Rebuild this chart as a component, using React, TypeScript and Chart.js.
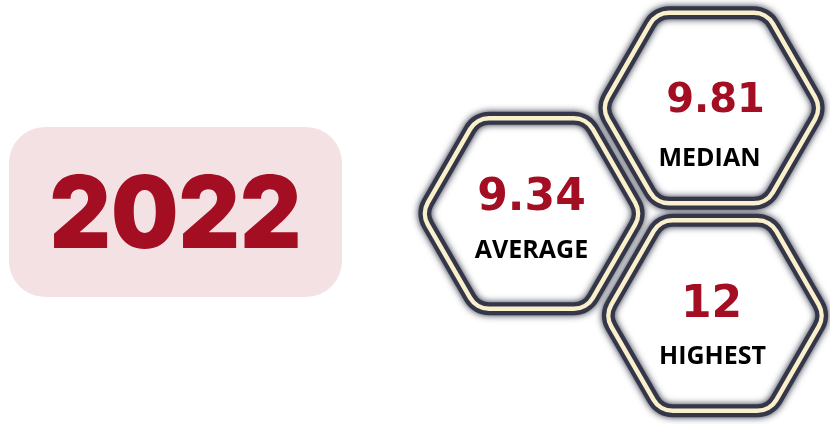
import React, { useEffect, useRef } from "react";
import { Chart, registerables } from "chart.js";

Chart.register(...registerables);

// ---- data ----
const yearLabel = "2022";
const statLabels = ["AVERAGE", "MEDIAN", "HIGHEST"];
const statValues = [9.34, 9.81, 12];
const valueText = ["9.34", "9.81", "12"];

// ---- layout (chart units == pixels) ----
const hexCenterX = [531.5, 711.5, 715];
const hexCenterY = [213.5, 108, 315.5];
const valueOffsetX = [0, 4, -3.5];
const valueBaseline = [-3.5, 4, 1.5];
const valueFont = [44, 40, 44];
const labelOffsetX = [0, -2, -2.5];
const labelBaseline = [44.5, 58, 48.5];

const RED = "#a30e22";

function hexPath(ctx: CanvasRenderingContext2D, cx: number, cy: number, R: number, rr: number) {
  const pts: number[][] = [];
  for (let i = 0; i < 6; i++) {
    const a = (Math.PI / 3) * i;
    pts.push([cx + R * Math.cos(a), cy + R * Math.sin(a)]);
  }
  ctx.beginPath();
  ctx.moveTo((pts[5][0] + pts[0][0]) / 2, (pts[5][1] + pts[0][1]) / 2);
  for (let i = 0; i < 6; i++) {
    const p = pts[i];
    const n = pts[(i + 1) % 6];
    ctx.arcTo(p[0], p[1], n[0], n[1], rr);
  }
  ctx.closePath();
}

const infographicPlugin = {
  id: "infographic",
  afterDatasetsDraw(chart: any) {
    const ctx: CanvasRenderingContext2D = chart.ctx;
    const xs = chart.scales.x;
    const ys = chart.scales.y;

    // year box
    const boxMeta = chart.getDatasetMeta(1);
    const bp = boxMeta.data[0];
    ctx.save();
    ctx.fillStyle = "#f4e1e4";
    ctx.beginPath();
    const bw = 333, bh = 170;
    (ctx as any).roundRect(bp.x - bw / 2, bp.y - bh / 2, bw, bh, 36);
    ctx.fill();
    ctx.fillStyle = RED;
    ctx.font = "900 100px Inter";
    ctx.textAlign = "center";
    ctx.textBaseline = "alphabetic";
    ctx.translate(bp.x, bp.y + 36);
    ctx.scale(0.95, 1);
    ctx.fillText(yearLabel, 0, 0);
    ctx.restore();

    const meta = chart.getDatasetMeta(0);
    meta.data.forEach((pt: any) => {
      ctx.save();
      hexPath(ctx, pt.x, pt.y, 110, 22);
      ctx.fillStyle = "#ffffff";
      ctx.fill();
      ctx.restore();
    });
    meta.data.forEach((pt: any) => {
      ctx.save();
      hexPath(ctx, pt.x, pt.y, 110, 22);
      ctx.strokeStyle = "#34374a";
      ctx.lineWidth = 13;
      ctx.shadowColor = "rgba(45,48,65,1)";
      ctx.shadowBlur = 7;
      ctx.stroke();
      ctx.restore();
    });
    meta.data.forEach((pt: any, i: number) => {
      const cx = pt.x;
      const cy = pt.y;
      ctx.save();
      // cream border
      hexPath(ctx, cx, cy, 110, 22);
      ctx.strokeStyle = "#fbf0cc";
      ctx.lineWidth = 4.5;
      ctx.stroke();

      // value text
      ctx.fillStyle = RED;
      ctx.textAlign = "center";
      ctx.textBaseline = "alphabetic";
      ctx.font = `bold ${valueFont[i]}px "DejaVu Sans"`;
      const vx = xs.getPixelForValue(hexCenterX[i] + valueOffsetX[i]);
      const vy = ys.getPixelForValue(hexCenterY[i] + valueBaseline[i]);
      ctx.fillText(valueText[i] ?? String(statValues[i]), vx, vy);

      // label
      ctx.fillStyle = "#000000";
      ctx.font = `bold 25px "Open Sans"`;
      const lx = xs.getPixelForValue(hexCenterX[i] + labelOffsetX[i]);
      const ly = ys.getPixelForValue(hexCenterY[i] + labelBaseline[i]);
      ctx.fillText(statLabels[i], lx, ly);
      ctx.restore();
    });
  },
};

export default function App() {
  const ref = useRef<HTMLCanvasElement>(null);
  useEffect(() => {
    if (!ref.current) return;
    const chart = new Chart(ref.current, {
      type: "scatter",
      data: {
        datasets: [
          {
            data: statLabels.map((_, i) => ({ x: hexCenterX[i], y: hexCenterY[i] })),
            pointRadius: 0,
          },
          {
            data: [{ x: 175.5, y: 212 }],
            pointRadius: 0,
          },
        ],
      },
      options: {
        responsive: false,
        animation: false,
        events: [],
        layout: { padding: 0 },
        plugins: { legend: { display: false }, tooltip: { enabled: false } },
        scales: {
          x: { type: "linear", min: 0, max: 830, display: false },
          y: { type: "linear", min: 0, max: 424, reverse: true, display: false },
        },
      },
      plugins: [infographicPlugin],
    });
    return () => chart.destroy();
  }, []);
  return (
    <div style={{ position: "fixed", left: 0, top: 0, width: 830, height: 424, background: "#fff" }}>
      <canvas ref={ref} width={830} height={424} />
    </div>
  );
}
